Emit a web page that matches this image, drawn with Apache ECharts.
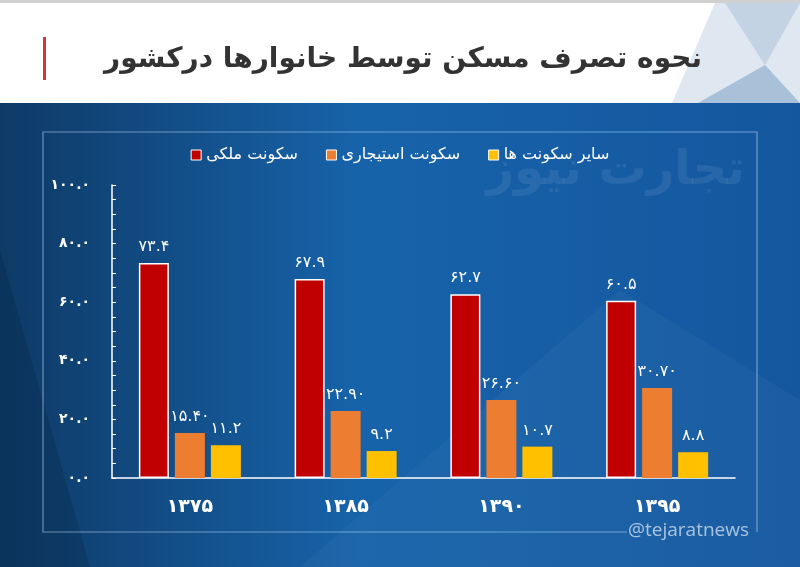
<!DOCTYPE html>
<html>
<head>
<meta charset="utf-8">
<script src="https://cdn.jsdelivr.net/npm/echarts@6/dist/echarts.min.js"></script>
<style>
html,body{margin:0;padding:0;background:#fff;}
#chart{width:800px;height:567px;}
</style>
</head>
<body>
<div id="chart"></div>
<script>
const titleText = 'نحوه تصرف مسکن توسط خانوارها درکشور';
const categories = ['1375', '1385', '1390', '1395'];
const seriesNames = ['سکونت ملکی', 'سکونت استیجاری', 'سایر سکونت ها'];
const ownedValues = [73.4, 67.9, 62.7, 60.5];
const rentedValues = [15.4, 22.9, 26.6, 30.7];
const otherValues = [11.2, 9.2, 10.7, 8.8];
const labelDecimals = [1, 2, 1];
const yTicks = [0, 20, 40, 60, 80, 100];
const watermark = 'تجارت نیوز';
const handle = '@tejaratnews';

const FONT = "'DejaVu Sans', 'Noto Sans', sans-serif";
function fa(s) {
  return String(s).replace(/[0-9]/g, d => '۰۱۲۳۴۵۶۷۸۹'[+d]);
}

const chart = echarts.init(document.getElementById('chart'), null, {renderer: 'canvas'});
const colors = ['#c00000', '#ed7d31', '#ffc000'];
const allValues = [ownedValues, rentedValues, otherValues];

const series = allValues.map((vals, i) => ({
  name: seriesNames[i],
  type: 'bar',
  data: vals,
  barWidth: 30,
  barGap: '20%',
  itemStyle: {
    color: colors[i],
    borderColor: i === 0 ? '#ffffff' : 'transparent',
    borderWidth: i === 0 ? 1.5 : 0
  },
  label: {
    show: true,
    position: 'top',
    distance: 8,
    color: '#ffffff',
    fontFamily: FONT,
    fontSize: 16,
    formatter: p => fa(p.value.toFixed(labelDecimals[i]))
  },
  z: 5
}));

const option = {
  animation: false,
  backgroundColor: '#ffffff',
  graphic: [
    {type: 'rect', z: -10, shape: {x: 0, y: 103, width: 800, height: 464},
      style: {fill: new echarts.graphic.LinearGradient(0, 0, 1, 0, [
        {offset: 0, color: '#0e3a66'},
        {offset: 0.45, color: '#1763aa'},
        {offset: 1, color: '#14579f'}
      ])}},
    {type: 'polygon', z: -9, shape: {points: [[0, 250], [90, 567], [0, 567]]},
      style: {fill: 'rgba(5,30,60,0.25)'}},
    {type: 'polygon', z: -9, shape: {points: [[300, 567], [620, 290], [800, 400], [800, 567]]},
      style: {fill: 'rgba(255,255,255,0.03)'}},
    {type: 'rect', z: -8, shape: {x: 0, y: 0, width: 800, height: 3}, style: {fill: '#d0d0d0'}},
    {type: 'polygon', z: -8, shape: {points: [[672, 103], [715, 3], [800, 3], [800, 103]]},
      style: {fill: '#dfe7f0'}},
    {type: 'polygon', z: -8, shape: {points: [[725, 3], [765, 65], [800, 3]]},
      style: {fill: '#c3d3e4'}},
    {type: 'polygon', z: -8, shape: {points: [[698, 103], [765, 65], [800, 103]]},
      style: {fill: '#a9c0d9'}},
    {type: 'rect', z: -7, shape: {x: 43, y: 37, width: 3, height: 43}, style: {fill: '#d9343a'}},
    {type: 'text', z: -7, x: 403, y: 60,
      style: {text: titleText, fill: '#333333', font: "bold 28px 'DejaVu Sans'", textAlign: 'center', textVerticalAlign: 'middle'}},
    {type: 'polyline', z: -5, shape: {points: [[627, 532], [43, 532], [43, 132], [757, 132], [757, 532]]},
      style: {stroke: 'rgba(190,215,240,0.55)', lineWidth: 1.2, fill: null}},
    {type: 'text', z: -5, x: 628, y: 531,
      style: {text: handle, fill: 'rgba(215,228,242,0.75)', font: "19px 'Open Sans'", textAlign: 'left', textVerticalAlign: 'middle'}},
    {type: 'text', z: -6, x: 745, y: 172,
      style: {text: watermark, fill: 'rgba(255,255,255,0.08)', font: "bold 48px 'DejaVu Sans'", textAlign: 'right', textVerticalAlign: 'middle'}}
  ],
  color: colors,
  legend: {
    data: seriesNames,
    top: 142,
    left: 'center',
    itemWidth: 10,
    itemHeight: 10,
    itemGap: 28,
    icon: 'rect',
    textStyle: {color: '#ffffff', fontFamily: FONT, fontSize: 16},
    itemStyle: {borderColor: '#ffffff', borderWidth: 1}
  },
  grid: {left: 112, right: 65, top: 185, bottom: 89, containLabel: false},
  xAxis: {
    type: 'category',
    data: categories,
    axisLine: {lineStyle: {color: '#ffffff', width: 1.5}},
    axisTick: {show: false},
    axisLabel: {color: '#ffffff', fontFamily: FONT, fontSize: 19, fontWeight: 'bold', margin: 20,
      formatter: v => fa(v)}
  },
  yAxis: {
    type: 'value',
    min: yTicks[0],
    max: yTicks[yTicks.length - 1],
    interval: 20,
    axisLine: {show: true, lineStyle: {color: '#ffffff', width: 1.5}},
    axisTick: {show: true, inside: true, length: 4, lineStyle: {color: '#ffffff'}},
    minorTick: {show: true, splitNumber: 4, length: 4, lineStyle: {color: '#ffffff'}},
    splitLine: {show: false},
    axisLabel: {color: '#ffffff', fontFamily: FONT, fontSize: 14, fontWeight: 'bold', margin: 22,
      formatter: v => fa(v.toFixed(1))}
  },
  series: series
};
chart.setOption(option);
</script>
</body>
</html>
